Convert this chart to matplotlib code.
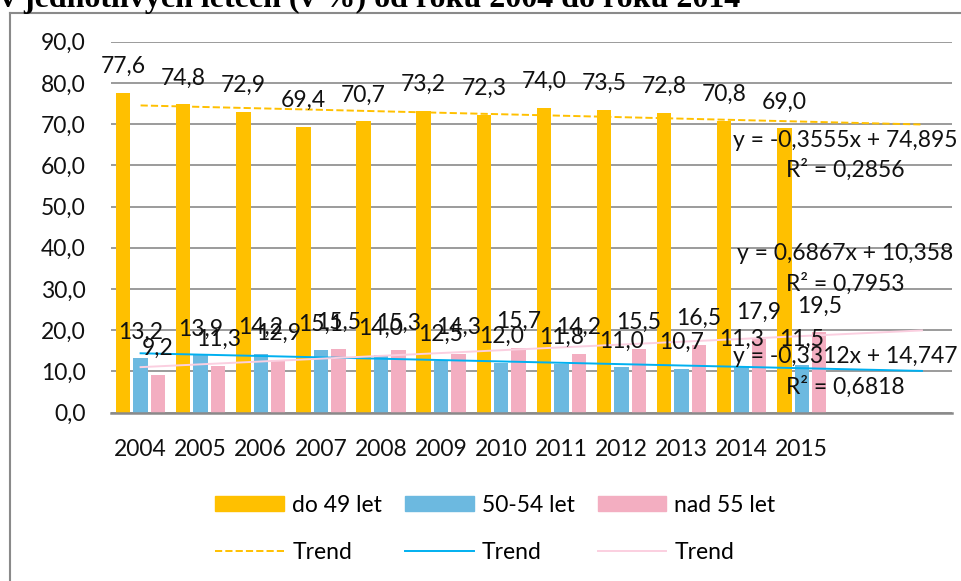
import numpy as np
import matplotlib
matplotlib.use('Agg')
import matplotlib.pyplot as plt
from matplotlib.lines import Line2D
from matplotlib.patches import Patch

# data
years = ['2004', '2005', '2006', '2007', '2008', '2009', '2010', '2011', '2012', '2013', '2014', '2015']
do49 = [77.6, 74.8, 72.9, 69.4, 70.7, 73.2, 72.3, 74.0, 73.5, 72.8, 70.8, 69.0]
let5054 = [13.2, 13.9, 14.2, 15.1, 14.0, 12.5, 12.0, 11.8, 11.0, 10.7, 11.3, 11.5]
nad55 = [9.2, 11.3, 12.9, 15.5, 15.3, 14.3, 15.7, 14.2, 15.5, 16.5, 17.9, 19.5]
series_names = ['do 49 let', '50-54 let', 'nad 55 let']
eq_labels = ['y = -0,3555x + 74,895\nR² = 0,2856',
             'y = -0,3312x + 14,747\nR² = 0,6818',
             'y = 0,6867x + 10,358\nR² = 0,7953']
title = 'v jednotlivých letech (v %) od roku 2004 do roku 2014'

bar_cols = ['#FFC000', '#6CB9E0', '#F3AEC1']
trend_cols = ['#FFC000', '#00B0F0', '#FBCFE0']
trend_ls = ['--', '-', '-']

plt.rcParams['font.family'] = ['Lato', 'DejaVu Sans']
fs = 16.5

fig = plt.figure(figsize=(9.62, 5.81), dpi=100)
ax = fig.add_axes([0.1149, 0.2897, 0.8747, 0.6385])

x = np.arange(1, len(years) + 1)
offsets = [-0.29, 0.0, 0.29]
data = [do49, let5054, nad55]

for vals, off, col in zip(data, offsets, bar_cols):
    ax.bar(x + off, vals, width=0.24, color=col, zorder=2)
    for xi, v in zip(x, vals):
        ax.annotate(('%.1f' % v).replace('.', ','), (xi + off, v), xytext=(0, 19),
                    textcoords='offset points', ha='center', va='center',
                    fontsize=fs, color='#111111', zorder=5)

# linear trends with 2 periods forecast
xt = np.array([1, len(years) + 2])
for vals, col, ls in zip(data, trend_cols, trend_ls):
    k, q = np.polyfit(x, vals, 1)
    ax.plot(xt, k * xt + q, color=col, ls=ls, lw=1.4, zorder=3)

eq_y = [0.694, 0.110, 0.387]
for lab, yy in zip(eq_labels, eq_y):
    ax.text(0.873, yy, lab, transform=ax.transAxes, ha='center', va='center',
            multialignment='center', fontsize=fs, linespacing=1.45, color='#111111', zorder=6)

ax.set_xlim(0.5, len(years) + 2.5)
ax.set_ylim(0, 90)
ax.set_yticks(np.arange(0, 91, 10))
ax.set_yticklabels([('%.1f' % t).replace('.', ',') for t in np.arange(0, 91, 10)])
ax.set_xticks(x)
ax.set_xticklabels(years)
ax.tick_params(length=0, labelsize=fs, labelcolor='#111111')
ax.tick_params(axis='y', pad=18)
ax.tick_params(axis='x', pad=19)
ax.grid(axis='y', color='#8A8A8A', lw=1.2, zorder=0)
ax.set_axisbelow(True)
for s in ['top', 'right', 'left']:
    ax.spines[s].set_visible(False)
ax.spines['bottom'].set_color('#8A8A8A')
ax.spines['bottom'].set_linewidth(1.8)

handles = []
labels = []
for name, bc, tc, ls in zip(series_names, bar_cols, trend_cols, trend_ls):
    handles.append(Patch(color=bc))
    labels.append(name)
    handles.append(Line2D([], [], color=tc, ls=ls, lw=1.4))
    labels.append('Trend')
fig.legend(handles, labels, ncol=3, loc='center', bbox_to_anchor=(0.515, 0.09),
           frameon=False, fontsize=fs, handlelength=3.0, handleheight=0.65,
           handletextpad=0.35, columnspacing=1.0, labelspacing=1.15)

# chart border and cut title
fig.add_artist(Line2D([0.0104, 0.0104], [0, 0.978], color='#8A8A8A', lw=1.5))
fig.add_artist(Line2D([0.0104, 1.0], [0.978, 0.978], color='#8A8A8A', lw=1.5))
fig.text(0.0, 1 - 7 / 581, title, fontsize=23, fontweight='bold',
         family='Liberation Serif', va='baseline', ha='left')

plt.savefig('out.png', dpi=100)
